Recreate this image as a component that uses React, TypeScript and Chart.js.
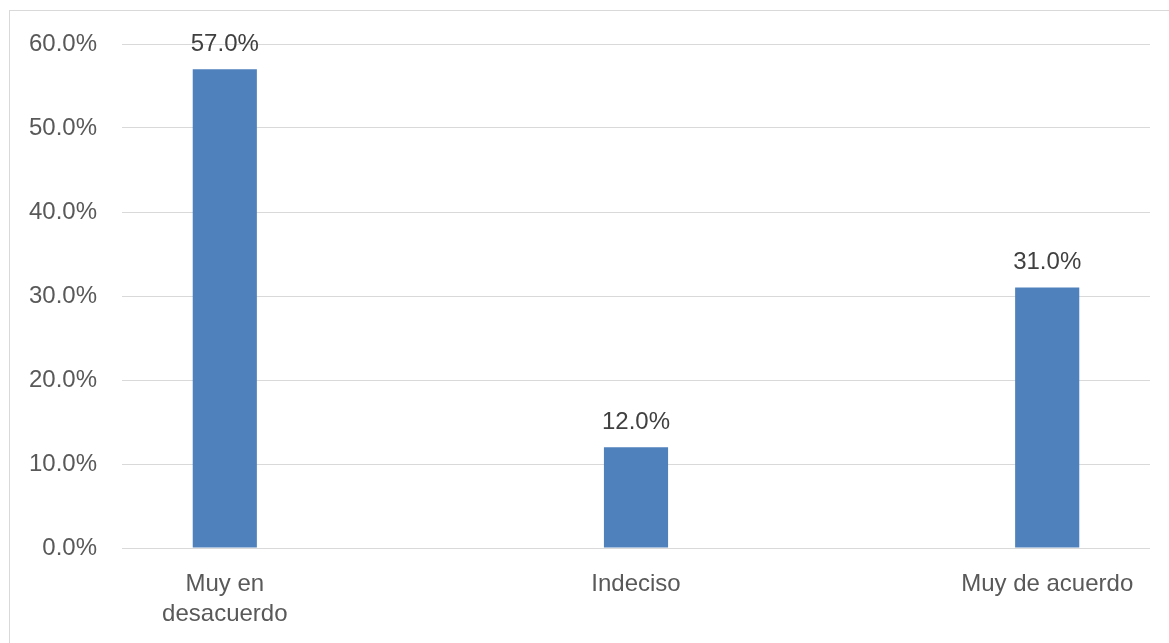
import React, { useEffect, useRef } from "react";
import { Chart, registerables } from "chart.js";

Chart.register(...registerables);

const categories: (string | string[])[] = [["Muy en", "desacuerdo"], "Indeciso", "Muy de acuerdo"];
const values: number[] = [57.0, 12.0, 31.0];
const yTicks: number[] = [0, 10, 20, 30, 40, 50, 60];

const FONT = "'Liberation Sans', Arial, sans-serif";

const dataLabelPlugin = {
  id: "dataLabels",
  afterDatasetsDraw(chart: any) {
    const ctx = chart.ctx;
    const meta = chart.getDatasetMeta(0);
    ctx.save();
    ctx.font = `24px ${FONT}`;
    ctx.fillStyle = "#404040";
    ctx.textAlign = "center";
    ctx.textBaseline = "middle";
    meta.data.forEach((bar: any, i: number) => {
      ctx.fillText(values[i].toFixed(1) + "%", bar.x, bar.y - 25);
    });
    ctx.restore();
  },
};

export default function App() {
  const ref = useRef<HTMLCanvasElement | null>(null);

  useEffect(() => {
    if (!ref.current) return;
    const chart = new Chart(ref.current, {
      type: "bar",
      data: {
        datasets: [
          {
            data: values.map((v, i) => ({ x: i, y: v })),
            backgroundColor: "#4f81bd",
            borderWidth: 0,
            barPercentage: 0.156,
            categoryPercentage: 1,
          },
        ],
      },
      options: {
        responsive: false,
        animation: false,
        layout: { padding: { top: 33, right: 19, left: 0, bottom: 0 } },
        plugins: { legend: { display: false }, tooltip: { enabled: false } },
        scales: {
          x: {
            type: "linear",
            min: -0.25,
            max: 2.25,
            offset: false,
            afterBuildTicks: (scale: any) => {
              scale.ticks = categories.map((_, i) => ({ value: i }));
            },
            grid: { display: false, drawTicks: false },
            border: { display: false },
            ticks: {
              color: "#595959",
              font: { family: FONT, size: 24, lineHeight: 1.25 },
              padding: 21,
              maxRotation: 0,
              autoSkip: false,
              callback: (v: any) => categories[Math.round(Number(v))],
            },
            afterFit: (scale: any) => {
              scale.height = 95;
            },
          },
          y: {
            min: 0,
            max: 60,
            afterBuildTicks: (scale: any) => {
              scale.ticks = yTicks.map((v) => ({ value: v }));
            },
            grid: { color: "#d9d9d9", lineWidth: 1, drawTicks: false },
            border: { display: false },
            ticks: {
              color: "#595959",
              font: { family: FONT, size: 24 },
              padding: 25,
              callback: (v: any) => Number(v).toFixed(1) + "%",
            },
            afterFit: (scale: any) => {
              scale.width = 112;
              scale.paddingTop = 0;
              scale.paddingBottom = 0;
            },
          },
        },
      },
      plugins: [dataLabelPlugin],
    });
    return () => chart.destroy();
  }, []);

  return (
    <div
      style={{
        position: "fixed",
        left: 9,
        top: 10,
        width: 1160,
        height: 633,
        borderTop: "1px solid #d9d9d9",
        borderLeft: "1px solid #d9d9d9",
        background: "#fff",
      }}
    >
      <canvas ref={ref} width={1159} height={632} style={{ display: "block" }} />
    </div>
  );
}
